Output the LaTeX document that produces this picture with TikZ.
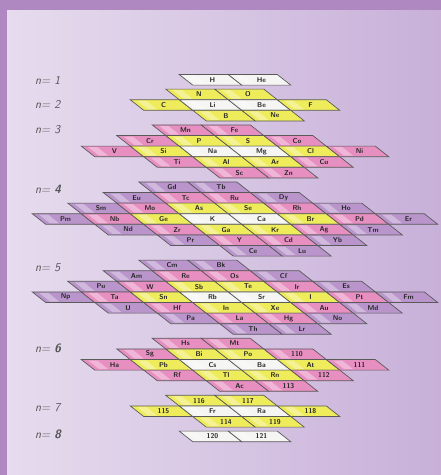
\documentclass[tikz,border=0pt]{standalone}
\usepackage{tikz}
\usepackage{xcolor}
\definecolor{PanelFrame}{HTML}{AF88C1}
\definecolor{PanelLeft}{HTML}{E6DCEE}
\definecolor{PanelRight}{HTML}{C8B0D9}
\definecolor{ShellS}{HTML}{F5F5F3}
\definecolor{ShellP}{HTML}{EFEC5C}
\definecolor{ShellD}{HTML}{E88FC2}
\definecolor{ShellF}{HTML}{B995CC}
\definecolor{CellEdge}{HTML}{5A5A5A}
\definecolor{LabelGray}{HTML}{555555}

\newcommand{\cellw}{49}
\newcommand{\cellslant}{13.5}
\newcommand{\rowh}{10.6}

\tikzset{
    % slanted element cells
    cell/.style={
        draw=CellEdge,
        line width=0.7pt,
        line join=miter
    },
    cell gloss/.style={
        fill=white,
        fill opacity=0.35
    },
    cell text/.style={
        font=\fontsize{7}{7}\selectfont\sffamily\bfseries,
        text=black!85,
        inner sep=0pt
    },
    shell label/.style={
        anchor=west,
        font=\fontsize{12}{12}\selectfont\sffamily\itshape,
        text=LabelGray,
        inner sep=0pt
    }
}

% one row of cells: shell top, row index, offset from middle row, cell count, colour/label list
\newcommand{\cellrow}[5]{%
    \pgfmathsetmacro{\rowy}{#1+#2*\rowh}
    \pgfmathsetmacro{\rowx}{235+(#3)*\cellslant-#4*\cellw/2-\cellslant/2}
    \foreach \col/\lab [count=\k from 0] in {#5} {
        \pgfmathsetmacro{\xl}{\rowx+\k*\cellw}
        \draw[cell, fill=\col] (\xl,\rowy) -- ++(\cellw,0) -- ++(\cellslant,\rowh) -- ++(-\cellw,0) -- cycle;
        \fill[cell gloss] (\xl+7,\rowy+1) -- ++(9,0) -- ++(\cellslant*0.8,\rowh-2) -- ++(-9,0) -- cycle;
        \node[cell text] (el-\lab) at (\xl+\cellw/2+\cellslant/2+2, \rowy+\rowh/2) {\lab};
    }
}

\begin{document}
\begin{tikzpicture}[x=1pt, y=-1pt]
    \useasboundingbox (0,0) rectangle (441,475);

    % Frame and panel
    \fill[PanelFrame] (0,0) rectangle (441,475);
    \shade[left color=PanelLeft, right color=PanelRight] (7,10) rectangle (441,475);

    % Shell labels
    \node[shell label] (lbl1) at (35,80) {n= 1};
    \node[shell label] (lbl2) at (35,104) {n= 2};
    \node[shell label] (lbl3) at (35,130) {n= 3};
    \node[shell label] (lbl4) at (35,189) {n= \textbf{4}};
    \node[shell label] (lbl5) at (35,268) {n= 5};
    \node[shell label] (lbl6) at (35,348) {n= \textbf{6}};
    \node[shell label] (lbl7) at (35,408) {n= 7};
    \node[shell label] (lbl8) at (35,434) {n= \textbf{8}};

    % n = 1
    \cellrow{74.5}{0}{0}{2}{ShellS/H,ShellS/He}

    % n = 2
    \cellrow{89.1}{0}{-1}{2}{ShellP/N,ShellP/O}
    \cellrow{89.1}{1}{0}{4}{ShellP/C,ShellS/Li,ShellS/Be,ShellP/F}
    \cellrow{89.1}{2}{1}{2}{ShellP/B,ShellP/Ne}

    % n = 3
    \cellrow{124.9}{0}{-2}{2}{ShellD/Mn,ShellD/Fe}
    \cellrow{124.9}{1}{-1}{4}{ShellD/Cr,ShellP/P,ShellP/S,ShellD/Co}
    \cellrow{124.9}{2}{0}{6}{ShellD/V,ShellP/Si,ShellS/Na,ShellS/Mg,ShellP/Cl,ShellD/Ni}
    \cellrow{124.9}{3}{1}{4}{ShellD/Ti,ShellP/Al,ShellP/Ar,ShellD/Cu}
    \cellrow{124.9}{4}{2}{2}{ShellD/Sc,ShellD/Zn}

    % n = 4
    \cellrow{181.9}{0}{-3}{2}{ShellF/Gd,ShellF/Tb}
    \cellrow{181.9}{1}{-2}{4}{ShellF/Eu,ShellD/Tc,ShellD/Ru,ShellF/Dy}
    \cellrow{181.9}{2}{-1}{6}{ShellF/Sm,ShellD/Mo,ShellP/As,ShellP/Se,ShellD/Rh,ShellF/Ho}
    \cellrow{181.9}{3}{0}{8}{ShellF/Pm,ShellD/Nb,ShellP/Ge,ShellS/K,ShellS/Ca,ShellP/Br,ShellD/Pd,ShellF/Er}
    \cellrow{181.9}{4}{1}{6}{ShellF/Nd,ShellD/Zr,ShellP/Ga,ShellP/Kr,ShellD/Ag,ShellF/Tm}
    \cellrow{181.9}{5}{2}{4}{ShellF/Pr,ShellD/Y,ShellD/Cd,ShellF/Yb}
    \cellrow{181.9}{6}{3}{2}{ShellF/Ce,ShellF/Lu}

    % n = 5
    \cellrow{260.1}{0}{-3}{2}{ShellF/Cm,ShellF/Bk}
    \cellrow{260.1}{1}{-2}{4}{ShellF/Am,ShellD/Re,ShellD/Os,ShellF/Cf}
    \cellrow{260.1}{2}{-1}{6}{ShellF/Pu,ShellD/W,ShellP/Sb,ShellP/Te,ShellD/Ir,ShellF/Es}
    \cellrow{260.1}{3}{0}{8}{ShellF/Np,ShellD/Ta,ShellP/Sn,ShellS/Rb,ShellS/Sr,ShellP/I,ShellD/Pt,ShellF/Fm}
    \cellrow{260.1}{4}{1}{6}{ShellF/U,ShellD/Hf,ShellP/In,ShellP/Xe,ShellD/Au,ShellF/Md}
    \cellrow{260.1}{5}{2}{4}{ShellF/Pa,ShellD/La,ShellD/Hg,ShellF/No}
    \cellrow{260.1}{6}{3}{2}{ShellF/Th,ShellF/Lr}

    % n = 6
    \cellrow{338.3}{0}{-2}{2}{ShellD/Hs,ShellD/Mt}
    \cellrow{338.3}{1}{-1}{4}{ShellD/Sg,ShellP/Bi,ShellP/Po,ShellD/110}
    \cellrow{338.3}{2}{0}{6}{ShellD/Ha,ShellP/Pb,ShellS/Cs,ShellS/Ba,ShellP/At,ShellD/111}
    \cellrow{338.3}{3}{1}{4}{ShellD/Rf,ShellP/Tl,ShellP/Rn,ShellD/112}
    \cellrow{338.3}{4}{2}{2}{ShellD/Ac,ShellD/113}

    % n = 7
    \cellrow{395.3}{0}{-1}{2}{ShellP/116,ShellP/117}
    \cellrow{395.3}{1}{0}{4}{ShellP/115,ShellS/Fr,ShellS/Ra,ShellP/118}
    \cellrow{395.3}{2}{1}{2}{ShellP/114,ShellP/119}

    % n = 8
    \cellrow{431.1}{0}{0}{2}{ShellS/120,ShellS/121}
\end{tikzpicture}
\end{document}
